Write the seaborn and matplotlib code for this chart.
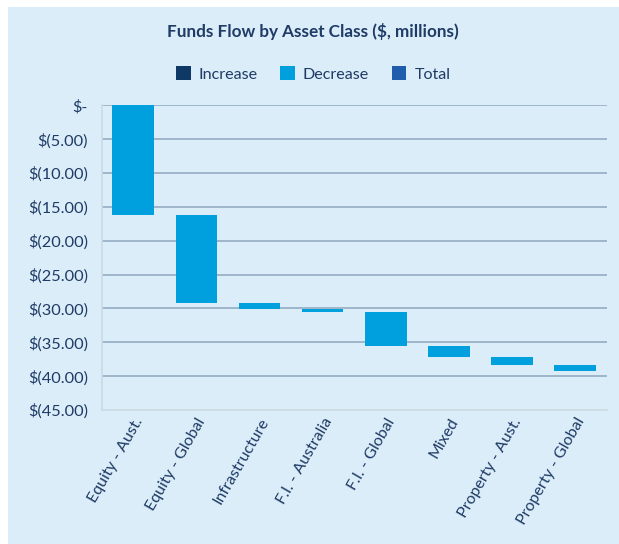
import matplotlib
matplotlib.use("Agg")
import matplotlib.pyplot as plt
import seaborn as sns
import numpy as np
import pandas as pd
from matplotlib.patches import Rectangle, Patch
from matplotlib.ticker import FuncFormatter, MultipleLocator

categories = ["Equity - Aust.", "Equity - Global", "Infrastructure", "F.I. - Australia",
              "F.I. - Global", "Mixed", "Property - Aust.", "Property - Global"]
decreases = [16.2, 12.95, 1.0, 0.35, 5.0, 1.6, 1.2, 0.95]
legend_labels = ["Increase", "Decrease", "Total"]
legend_colors = ["#0E3866", "#009FDE", "#1F5CAB"]

ends = -np.cumsum(decreases)
starts = np.concatenate([[0.0], ends[:-1]])
df = pd.DataFrame({"cat": categories, "height": ends - starts, "start": starts})

sns.set_theme(style="white")
plt.rcParams["font.family"] = ["Lato", "DejaVu Sans"]

BG = "#DBEDF8"
TXT = "#1F3B66"

fig = plt.figure(figsize=(6.19, 5.44), dpi=100)
fig.patch.set_facecolor("white")
fig.patches.append(Rectangle((8/619, 0), 611/619, 537/544, transform=fig.transFigure,
                             facecolor=BG, edgecolor="none", zorder=-10))

ax = fig.add_axes([101.7/619, 1-410/544, (606.7-101.7)/619, (410-105.3)/544])
ax.set_facecolor(BG)

sns.barplot(data=df, x="cat", y="height", bottom=df["start"].values, color=legend_colors[1],
            saturation=1, width=0.66, ax=ax, zorder=3, edgecolor="none")

ax.set_ylim(-45, 0)
ax.set_xlim(-0.5, len(categories) - 0.5)
ax.yaxis.set_major_locator(MultipleLocator(5))

def fmt(v, pos):
    if abs(v) < 1e-9:
        return "$-"
    return "$(%.2f)" % abs(v)

ax.yaxis.set_major_formatter(FuncFormatter(fmt))
for y in np.arange(0, -41, -5):
    ax.axhline(y, color="#8FA7BE", lw=1.1, zorder=1)

for s in ["top", "right"]:
    ax.spines[s].set_visible(False)
for s in ["left", "bottom"]:
    ax.spines[s].set_color("#CCD9E2")
    ax.spines[s].set_linewidth(1.2)

ax.set_xlabel("")
ax.set_ylabel("")
ax.tick_params(axis="y", length=0, pad=10, labelsize=11.8, labelcolor=TXT)
ax.tick_params(axis="x", length=0, pad=4, labelsize=11.5, labelcolor=TXT)
ax.set_xticks(range(len(categories)))
ax.set_xticklabels(categories, rotation=60, ha="right", rotation_mode="anchor")

fig.text(0.506, 1-31/544, "Funds Flow by Asset Class ($, millions)", ha="center", va="center",
         fontsize=12.3, fontweight="bold", color=TXT)

handles = [Patch(facecolor=c, edgecolor="none") for c in legend_colors]
fig.legend(handles, legend_labels, loc="center", bbox_to_anchor=(0.506, 1-74/544), ncol=3,
           frameon=False, fontsize=11.6, labelcolor=TXT, handlelength=0.9, handleheight=0.9,
           handletextpad=0.5, columnspacing=1.4)

fig.savefig("out.png", dpi=100, facecolor=fig.get_facecolor())
